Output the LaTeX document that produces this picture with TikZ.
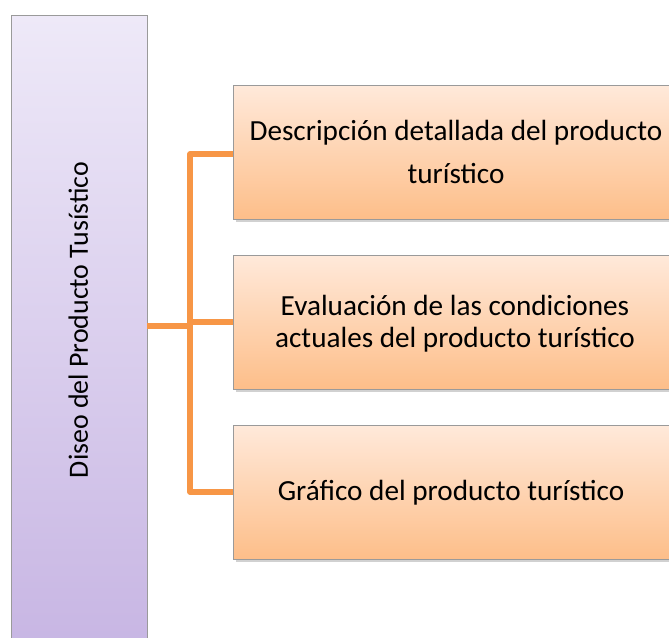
\documentclass[tikz,border=0pt]{standalone}
\usepackage{fontspec}
\setmainfont{Carlito}
\usetikzlibrary{calc}
\definecolor{conn}{HTML}{F79646}
\definecolor{ptop}{HTML}{EEE9F8}
\definecolor{pbot}{HTML}{C7B5E3}
\definecolor{otop}{HTML}{FFE9DA}
\definecolor{obot}{HTML}{FDBE89}
\definecolor{edge}{HTML}{9A9A9A}
\tikzset{
  parentbox/.style={draw=edge, line width=0.8pt, top color=ptop, bottom color=pbot, minimum width=136*0.75pt, minimum height=640*0.75pt, inner sep=0pt},
  childbox/.style={draw=edge, line width=0.8pt, top color=otop, bottom color=obot, minimum width=450*0.75pt, minimum height=134*0.75pt, inner sep=0pt},
  shadowbox/.style={fill=black, opacity=0.18, minimum width=450*0.75pt, minimum height=134*0.75pt, inner sep=0pt},
  label/.style={font=\fontsize{21.9}{24}\selectfont, align=center, text=black},
  connector/.style={draw=conn, line width=3.8pt, line join=round}
}
\begin{document}
\begin{tikzpicture}[x=0.75pt,y=-0.75pt]
\useasboundingbox (0,0) rectangle (669,637);
\clip (0,0) rectangle (669,637);
% parent
\node[parentbox, anchor=north west] (p) at (11,15) {};
\node[label, font=\fontsize{20.9}{24}\selectfont, rotate=90, anchor=base] (pt) at (88,320) {Diseo del Producto Tusístico};
% shadows
\node[shadowbox, anchor=north west] (s1) at (236,88) {};
\node[shadowbox, anchor=north west] (s2) at (236,258) {};
\node[shadowbox, anchor=north west] (s3) at (236,428) {};
% children
\node[childbox, anchor=north west] (c1) at (233,85) {};
\node[childbox, anchor=north west] (c2) at (233,255) {};
\node[childbox, anchor=north west] (c3) at (233,425) {};
\node[label, font=\fontsize{21.9}{32}\selectfont, anchor=base] (t1) at (456,183) {Descripción detallada del producto\\turístico};
\node[label, font=\fontsize{21.9}{24}\selectfont, anchor=base] (t2) at (455,347) {Evaluación de las condiciones\\actuales del producto turístico};
\node[label, anchor=base] (t3) at (451,500) {Gráfico del producto turístico};
% connectors
\coordinate (j) at (190,326);
\coordinate (pa) at (147,326);
\coordinate (a1) at (233,154);
\coordinate (a2) at (233,322);
\coordinate (a3) at (233,492);
\path[connector] (pa) -- (j);
\path[connector] (a1) -| (190,492) -- (a3);
\path[connector] (190,322) -- (a2);
\end{tikzpicture}
\end{document}
